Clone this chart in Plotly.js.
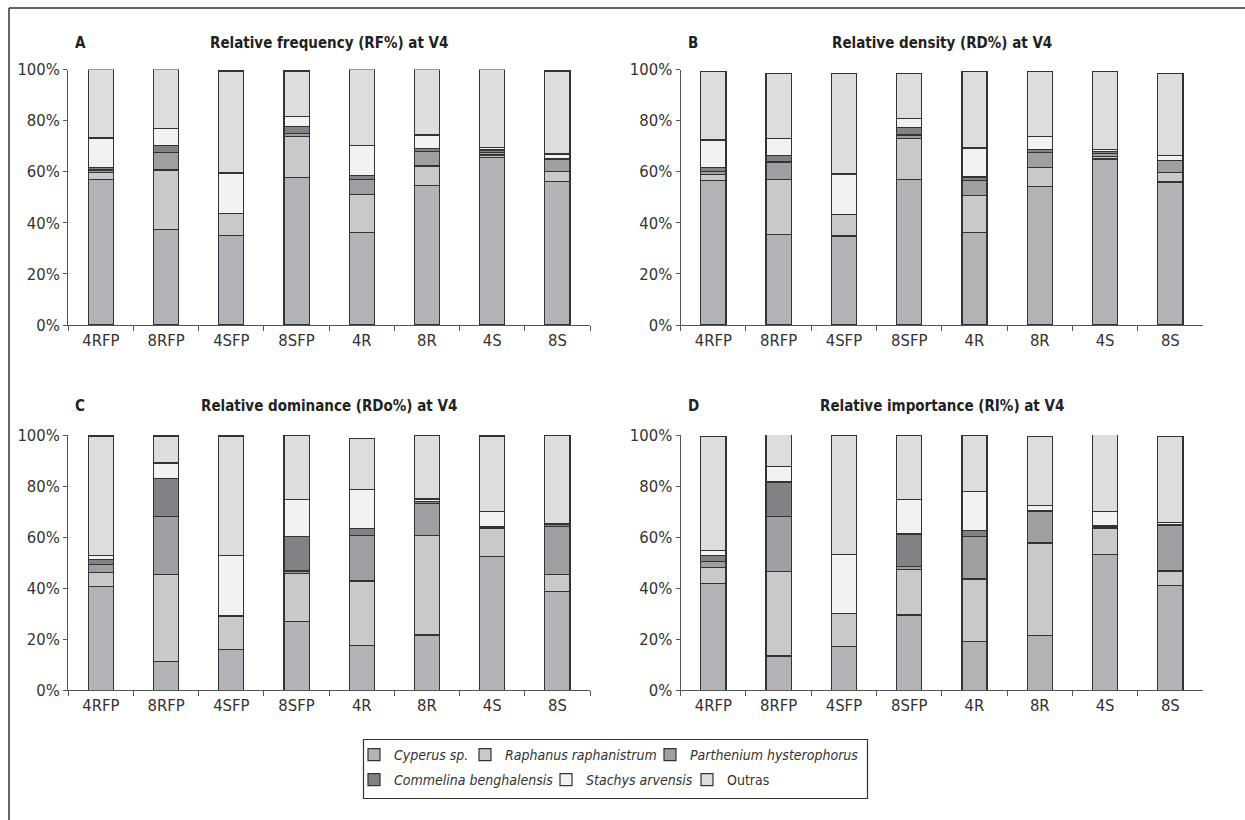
<!DOCTYPE html>
<html>
<head>
<meta charset="utf-8">
<script src="https://cdn.plot.ly/plotly-3.0.1.min.js"></script>
<style>
html,body{margin:0;padding:0;background:#fff;}
#chart{width:1245px;height:820px;}
</style>
</head>
<body>
<div id="chart"></div>
<script>
// Categories
const categories = ["4RFP", "8RFP", "4SFP", "8SFP", "4R", "8R", "4S", "8S"];
const seriesNames = ["<i>Cyperus sp.</i>", "<i>Raphanus raphanistrum</i>", "<i>Parthenium hysterophorus</i>",
                     "<i>Commelina benghalensis</i>", "<i>Stachys arvensis</i>", "Outras"];
const panelTitles = ["Relative frequency (RF%) at V4", "Relative density (RD%) at V4",
                     "Relative dominance (RDo%) at V4", "Relative importance (RI%) at V4"];
const panelLetters = ["A", "B", "C", "D"];
const yTickVals = [0, 20, 40, 60, 80, 100];
const yTickText = ["0%", "20%", "40%", "60%", "80%", "100%"];

// A: Relative frequency (RF%)
const rfCyperus    = [57.0, 37.5, 35.0, 57.8, 36.3, 54.7, 65.5, 56.3];
const rfRaphanus   = [2.6, 23.2, 8.7, 16.0, 14.7, 7.5, 1.0, 3.9];
const rfParthenium = [1.1, 6.7, 0, 1.0, 6.1, 5.8, 1.0, 4.8];
const rfCommelina  = [1.1, 2.8, 0, 3.0, 1.3, 1.0, 1.0, 0];
const rfStachys    = [11.4, 6.8, 15.8, 3.8, 11.7, 5.4, 1.0, 1.9];
const rfOutras     = [26.8, 23.0, 39.9, 17.8, 29.9, 25.6, 30.5, 32.5];

// B: Relative density (RD%)
const rdCyperus    = [56.6, 35.5, 34.8, 57.1, 36.1, 54.1, 65.0, 56.0];
const rdRaphanus   = [2.4, 21.6, 8.5, 15.9, 14.5, 7.5, 1.0, 3.6];
const rdParthenium = [1.0, 6.7, 0, 1.4, 6.0, 5.8, 1.0, 4.9];
const rdCommelina  = [1.6, 2.6, 0, 3.0, 1.3, 1.2, 1.0, 0];
const rdStachys    = [10.8, 6.7, 15.8, 3.5, 11.4, 5.1, 0.8, 1.9];
const rdOutras     = [26.7, 25.4, 39.4, 17.6, 29.8, 25.4, 30.3, 32.1];

// C: Relative dominance (RDo%)
const rdoCyperus    = [40.6, 11.2, 16.1, 27.0, 17.4, 21.7, 52.3, 38.6];
const rdoRaphanus   = [5.5, 34.2, 13.0, 18.6, 25.4, 39.0, 11.0, 6.8];
const rdoParthenium = [3.1, 22.6, 0, 1.1, 17.9, 12.4, 0.4, 18.8];
const rdoCommelina  = [2.1, 14.9, 0, 13.5, 2.6, 1.0, 0.4, 0.6];
const rdoStachys    = [1.4, 6.1, 23.6, 14.6, 15.3, 0.8, 6.0, 0.4];
const rdoOutras     = [46.9, 10.6, 46.9, 25.2, 20.1, 25.1, 29.5, 34.8];

// D: Relative importance (RI%)
const riCyperus    = [41.8, 13.4, 17.2, 29.5, 19.0, 21.5, 53.3, 41.1];
const riRaphanus   = [6.2, 33.2, 13.0, 17.9, 24.6, 36.2, 10.2, 5.6];
const riParthenium = [2.4, 21.4, 0, 1.0, 16.6, 12.4, 0.5, 17.7];
const riCommelina  = [2.5, 13.6, 0, 12.8, 2.5, 0.4, 0.4, 0.4];
const riStachys    = [1.9, 6.1, 23.1, 13.6, 15.2, 2.0, 5.6, 0.8];
const riOutras     = [44.5, 13.0, 46.7, 25.2, 22.1, 26.8, 30.7, 33.7];

const panels = [
  [rfCyperus, rfRaphanus, rfParthenium, rfCommelina, rfStachys, rfOutras],
  [rdCyperus, rdRaphanus, rdParthenium, rdCommelina, rdStachys, rdOutras],
  [rdoCyperus, rdoRaphanus, rdoParthenium, rdoCommelina, rdoStachys, rdoOutras],
  [riCyperus, riRaphanus, riParthenium, riCommelina, riStachys, riOutras]
];

const colors = ["#b2b3b7", "#c8c9cb", "#9e9fa3", "#808285", "#f1f2f3", "#dcdddf"];
const FONT = "'Liberation Sans Narrow', 'Arial Narrow', 'DejaVu Sans Condensed', sans-serif";
const W = 1245, H = 820;
const px = v => v / W;
const py = v => 1 - v / H;

const legendIds = ["legend", "legend2", "legend3", "legend4", "legend5", "legend6"];

const traces = [];
panels.forEach((series, p) => {
  const sfx = p === 0 ? "" : String(p + 1);
  series.forEach((vals, s) => {
    traces.push({
      type: "bar",
      x: categories,
      y: vals,
      name: seriesNames[s],
      xaxis: "x" + sfx,
      yaxis: "y" + sfx,
      marker: {color: colors[s], line: {color: "#333", width: 1.2}},
      showlegend: p === 0,
      legend: legendIds[s],
      cliponaxis: false,
      hoverinfo: "x+y+name"
    });
  });
});

const xDomL = [px(68.3), px(590)];
const xDomR = [px(680.7), px(1203)];
const yDomT = [py(325), py(69.5)];
const yDomB = [py(690.3), py(435)];

function xAx(dom, anchor) {
  return {
    domain: dom, anchor: anchor, type: "category",
    showline: true, linecolor: "#555", linewidth: 1.3,
    ticks: "outside", tickson: "boundaries", ticklen: 5, tickcolor: "#555", tickwidth: 1.3,
    tickfont: {family: FONT, size: 16.5, color: "#333"},
    showgrid: false, zeroline: false, fixedrange: true
  };
}
function yAx(dom, anchor) {
  return {
    domain: dom, anchor: anchor, range: [0, 100],
    tickmode: "array", tickvals: yTickVals, ticktext: yTickText,
    showline: true, linecolor: "#555", linewidth: 1.3,
    ticks: "outside", ticklen: 4, tickcolor: "#555", tickwidth: 1.3,
    tickfont: {family: FONT, size: 16.5, color: "#333"},
    showgrid: false, zeroline: false, fixedrange: true
  };
}

const annotations = [];
const titleX = [ (68.3 + 590) / 2, (680.7 + 1203) / 2, (68.3 + 590) / 2, (680.7 + 1203) / 2 ];
const titleY = [43, 43, 406, 406];
const letterX = [73, 686, 73, 686];
panelTitles.forEach((t, i) => {
  annotations.push({
    text: "<b>" + t + "</b>", xref: "paper", yref: "paper",
    x: px(titleX[i]), y: py(titleY[i]), xanchor: "center", yanchor: "middle",
    showarrow: false, font: {family: FONT, size: 15, color: "#222"}
  });
  annotations.push({
    text: "<b>" + panelLetters[i] + "</b>", xref: "paper", yref: "paper",
    x: px(letterX[i]), y: py(titleY[i]), xanchor: "left", yanchor: "middle",
    showarrow: false, font: {family: FONT, size: 15, color: "#222"}
  });
});

const shapes = [
  // figure frame (top and left edges)
  {type: "line", xref: "paper", yref: "paper", x0: px(9), y0: py(820), x1: px(9), y1: py(8), line: {color: "#333", width: 1.5}},
  {type: "line", xref: "paper", yref: "paper", x0: px(9), y0: py(8), x1: px(1245), y1: py(8), line: {color: "#333", width: 1.5}},
  // legend box
  {type: "rect", xref: "paper", yref: "paper", x0: px(363.5), y0: py(798.5), x1: px(867.5), y1: py(739.5), line: {color: "#333", width: 1.2}, fillcolor: "rgba(0,0,0,0)"}
];

function legendAt(xp, yp) {
  return {
    orientation: "h", xanchor: "left", yanchor: "middle",
    x: px(xp), y: py(yp),
    bgcolor: "rgba(0,0,0,0)", borderwidth: 0,
    font: {family: FONT, size: 14, color: "#333"},
    itemclick: false, itemdoubleclick: false
  };
}

const layout = {
  width: W, height: H,
  margin: {l: 0, r: 0, t: 0, b: 0},
  paper_bgcolor: "#fff", plot_bgcolor: "#fff",
  barmode: "stack", bargap: 0.615,
  font: {family: FONT, color: "#333"},
  showlegend: true,
  legend:  legendAt(354, 755),
  legend2: legendAt(465, 755),
  legend3: legendAt(650, 755),
  legend4: legendAt(354, 780),
  legend5: legendAt(546, 780),
  legend6: legendAt(687, 780),
  xaxis: xAx(xDomL, "y"), yaxis: yAx(yDomT, "x"),
  xaxis2: xAx(xDomR, "y2"), yaxis2: yAx(yDomT, "x2"),
  xaxis3: xAx(xDomL, "y3"), yaxis3: yAx(yDomB, "x3"),
  xaxis4: xAx(xDomR, "y4"), yaxis4: yAx(yDomB, "x4"),
  annotations: annotations,
  shapes: shapes
};

Plotly.newPlot("chart", traces, layout, {displayModeBar: false});
</script>
</body>
</html>
